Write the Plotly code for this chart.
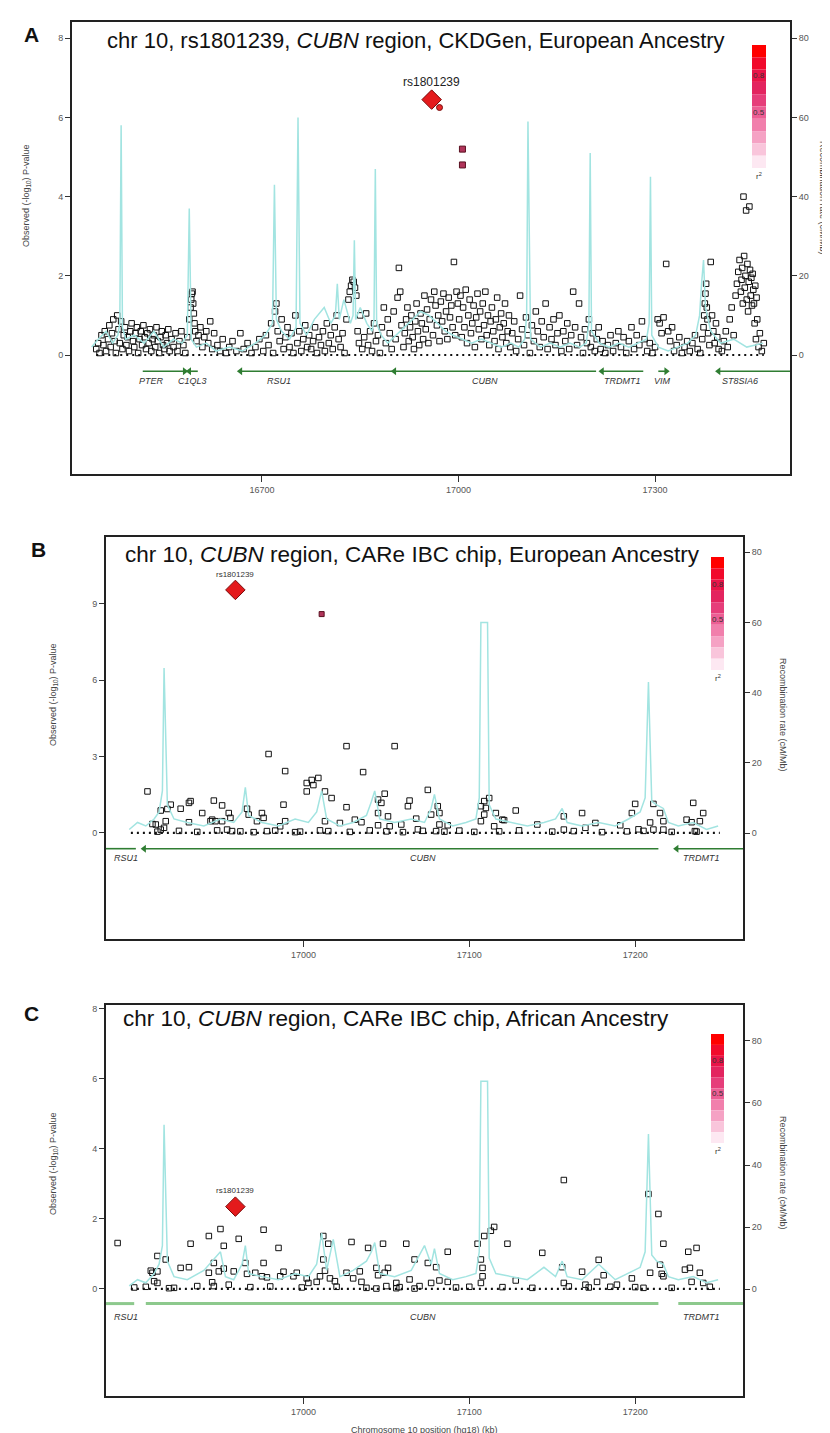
import plotly.graph_objects as go

W, H = 830, 1433
FONT = "Liberation Sans, Arial, sans-serif"

# ---------------- Panel A data (CKDGen, European) ----------------
a_pos = [16447,16450,16452,16455,16458,16460,16462,16465,16467,16469,
         16471,16473,16475,16477,16479,16481,16483,16485,16487,16489,
         16491,16493,16495,16497,16499,16501,16503,16505,16507,16509,
         16511,16513,16515,16517,16519,16521,16523,16525,16527,16529,
         16531,16533,16535,16537,16539,16541,16543,16545,16547,16549,
         16551,16553,16555,16557,16559,
         16562,16565,16568,16571,16574,16577,16580,16583,16586,16589,
         16591,16592,16593,16594,16595,16596,16597,16598,16600,16603,
         16606,16609,16612,16615,16618,16621,16624,16627,
         16632,16636,16640,16645,16650,16655,16661,16667,16672,16678,16684,16690,16696,
         16702,16706,16710,16714,16717,16720,16722,16724,16727,16730,
         16733,16736,16739,16742,16745,16748,16751,16754,16757,16760,
         16763,16766,16769,
         16772,16775,16778,16781,16784,16787,16790,16793,16796,16799,
         16802,16805,16808,16811,16814,16817,16820,16823,16826,16829,
         16832,16834,16836,16838,16840,16842,16844,16846,16848,16850,
         16853,16856,16859,16862,16865,16868,16871,16874,16877,16880,
         16883,16886,16889,16892,16895,16898,16901,16904,16907,16909,
         16911,16913,
         16916,16918,16920,16922,16924,16926,16928,16930,16932,16934,
         16936,16938,16940,16942,16944,16946,16948,16950,16952,16954,
         16956,16958,16961,16963,16965,16967,16969,16971,16973,16975,
         16977,16979,16981,16983,16985,16987,16989,16991,16993,16995,
         16997,16999,
         17001,17003,17005,17007,17009,17011,17013,17015,17017,17019,
         17021,17023,17025,17027,17029,17031,17033,17035,17037,17039,
         17041,17043,17045,17047,17049,17051,17053,17055,17057,17059,
         17061,17063,17065,17067,17069,17071,17073,17075,17077,17079,
         17082,17085,17088,17091,17094,17097,17100,17103,17106,17109,
         17112,17115,17118,17121,17124,17127,17130,17133,17136,17139,
         17142,17145,17148,17151,17154,17157,
         17160,17163,17166,17169,17172,17175,17178,17181,17184,17187,
         17190,17193,17196,17199,17202,17205,17208,17211,17214,17217,
         17220,17224,17228,17232,17236,17240,17244,17248,17252,17256,
         17260,17264,17268,17272,17276,17280,17284,17288,
         17292,17296,17300,17304,17307,17310,17313,17317,17320,17323,
         17326,17329,17333,17337,17341,17345,17349,17353,17357,17361,
         17365,17369,
         17372,17374,17375,17376,17377,17378,17379,17380,17381,17383,
         17385,17387,17389,17391,17393,17395,17397,
         17402,17405,17408,17411,17414,17417,17420,17423,17425,17427,
         17429,17431,17432,17433,17434,17435,17436,17437,17438,17439,
         17440,17441,17442,17443,17444,17445,17446,17447,17448,17449,
         17450,17451,17452,17453,17454,17455,17456,17458,17460,17463,
         17466]
a_logp = [0.15,0.3,0.05,0.5,0.25,0.6,0.1,0.4,0.75,0.2,
          0.55,0.9,0.35,0.05,1.0,0.65,0.3,0.85,0.15,0.5,
          0.7,0.25,0.45,0.1,0.6,0.8,0.35,0.2,0.55,0.7,
          0.05,0.4,0.6,0.25,0.75,0.45,0.15,0.55,0.3,0.65,
          0.1,0.4,0.5,0.2,0.7,0.35,0.05,0.45,0.6,0.25,
          0.15,0.5,0.3,0.65,0.1,
          0.4,0.2,0.55,0.1,0.35,0.6,0.25,0.05,0.45,0.9,
          1.2,1.4,1.55,1.6,1.3,1.05,0.8,0.6,0.35,0.5,
          0.7,0.2,0.45,0.6,0.3,0.85,0.15,0.55,
          0.25,0.1,0.4,0.05,0.2,0.35,0.1,0.55,0.15,0.3,0.05,0.2,0.4,
          0.1,0.5,0.25,0.8,0.05,1.1,1.3,0.6,0.35,0.9,
          0.15,0.45,0.7,0.2,0.55,0.05,1.0,0.3,0.6,0.1,
          0.4,0.75,0.2,
          0.5,0.15,0.35,0.7,0.05,0.45,0.25,0.6,0.1,0.8,
          0.3,0.5,0.15,0.7,1.0,0.4,0.2,0.55,0.05,0.9,
          1.4,1.6,1.75,1.9,1.85,1.7,1.5,0.6,0.3,1.0,
          0.15,0.45,1.05,0.25,0.6,0.1,0.8,0.35,0.5,0.05,
          0.7,1.2,0.3,0.9,0.55,0.15,1.1,0.4,1.45,2.2,
          1.6,0.75,
          0.2,0.55,0.9,1.2,0.35,0.7,1.0,0.45,0.15,0.85,
          1.3,0.6,0.25,1.05,0.8,0.4,1.5,0.65,1.15,0.3,
          0.9,1.4,0.5,1.6,1.25,0.75,1.0,0.35,1.35,0.85,
          1.55,0.6,1.1,0.4,1.45,0.95,1.25,0.7,2.35,0.5,
          1.6,1.3,
          0.9,1.5,0.45,1.2,0.7,1.65,0.3,1.0,1.4,0.55,
          0.8,1.25,0.2,0.95,1.55,0.65,1.1,0.4,1.3,0.75,
          1.6,0.5,1.0,0.25,0.85,1.2,0.6,0.35,0.9,1.45,
          0.15,0.7,1.05,0.45,0.8,1.3,0.3,0.6,1.0,0.2,
          0.55,0.85,0.1,0.4,1.5,0.65,0.25,0.95,0.5,0.05,
          0.75,0.35,1.1,0.6,0.2,0.85,0.45,1.3,0.15,0.7,
          0.4,0.9,0.25,0.55,1.0,0.1,
          0.6,0.35,0.8,0.15,0.5,1.6,0.7,0.25,1.3,0.45,
          0.05,0.65,0.3,0.9,0.2,0.55,0.1,0.4,0.7,0.15,
          0.35,0.05,0.25,0.5,0.1,0.3,0.6,0.2,0.45,0.05,
          0.35,0.7,0.15,0.5,0.25,0.85,0.4,0.1,
          0.3,0.05,0.2,0.9,0.8,0.55,0.95,2.3,0.6,0.35,
          0.7,0.1,0.25,0.45,0.05,0.2,0.35,0.1,0.3,0.5,
          0.15,0.05,
          0.4,0.7,1.0,1.3,1.55,1.8,1.2,0.9,0.55,0.25,
          2.35,1.0,0.6,0.3,0.8,0.45,0.15,
          0.1,0.35,0.6,0.2,0.9,1.2,0.5,1.5,1.8,2.1,
          2.4,1.6,1.9,2.2,1.3,4.0,2.5,1.7,2.0,3.65,
          1.4,2.3,1.1,1.85,3.75,2.15,1.5,1.95,1.25,2.05,
          1.65,1.3,0.8,1.75,0.4,1.45,0.9,0.2,0.55,0.1,
          0.3]
a_lead = [16959, 6.45]
a_hi_pos = [16971]
a_hi_logp = [6.25]
a_mid_pos = [17006, 17006]
a_mid_logp = [5.2, 4.8]
a_rec_pos = [16440,16450,16462,16472,16480,16483,16485,16487,16492,16505,
             16520,16535,16550,16565,16578,16586,16589,16592,16600,16615,
             16630,16650,16670,16690,16705,16716,16719,16722,16730,16742,
             16752,16755,16758,16768,16780,16795,16805,16812,16815,16818,
             16825,16835,16839,16841,16843,16850,16860,16868,16871,16873,
             16875,16882,16892,16905,16918,16930,16942,16955,16968,16980,
             16992,17005,17020,17035,17050,17065,17080,17092,17101,17104,
             17106,17110,17125,17140,17155,17170,17185,17195,17199,17201,
             17203,17215,17230,17245,17260,17275,17287,17291,17293,17295,
             17305,17320,17335,17350,17362,17368,17371,17374,17377,17385,
             17400,17420,17440,17465]
a_rec_rate = [2,4,6,3,5,8,58,7,4,5,
              3,6,2,4,3,5,37,4,2,3,
              1,2,1,3,5,8,43,9,6,4,
              7,60,8,5,9,12,8,10,18,9,
              14,8,10,29,9,12,8,6,9,47,
              8,5,3,5,7,9,11,10,8,6,
              5,4,3,4,3,2,3,2,4,10,
              59,4,2,3,2,3,2,3,8,51,
              6,3,2,3,2,3,4,8,45,5,
              2,1,2,3,5,10,18,24,12,6,
              3,4,2,3]
a_dots = [16447, 17466]
a_gene_name = ["PTER", "C1QL3", "RSU1", "CUBN", "TRDMT1", "VIM", "ST8SIA6"]
a_gene_start = [16518, 16589, 16667, 16902, 17219, 17305, 17397]
a_gene_end = [16582, 16602, 16899, 17210, 17282, 17317, 17506]
a_gene_strand = ["+", "-", "-", "-", "-", "+", "-"]
a_gene_label_x = [16532, 16594, 16726, 17040, 17250, 17312, 17430]

# ---------------- Panel B data (CARe IBC, European) ----------------
b_pos = [16906,16914,16920,16917,16911,16909,16916,16914,16926,16931,
         16939,16946,16951,16945,16944,16947,16951,16955,16956,16931,
         16954,16957,16966,16967,16975,16972,16976,16988,16989,16978,
         16986,16995,17002,17013,17017,17013,17010,17022,17026,17031,
         17035,17045,17049,17047,17045,17051,17045,17052,17059,17064,
         17063,17068,17069,17081,17082,17077,17082,17087,17080,17107,
         17109,17107,17116,17120,17121,17128,17115,17141,17157,17168,
         17157,17170,17176,17191,17198,17202,17209,17215,17217,17211,
         17217,17231,17234,17239,17241,17236,
         16932,16918,16979,16989,17002,17005,17006,17009,17026,17036,
         17055,17075,17109,17112,17110,17200,17211,17235,
         16912,16925,16936,16948,16962,16970,16983,16998,17015,17028,
         17040,17050,17060,17072,17085,17094,17103,17118,17130,17150,
         17163,17180,17195,17205,17222,17237]
b_logp = [1.63,0.88,1.11,0.46,0.33,0.35,0.20,0.13,0.95,1.18,
          0.78,1.27,1.08,0.52,0.46,0.46,0.46,0.78,0.59,0.42,
          0.13,0.07,0.95,0.72,0.78,0.46,0.59,1.11,0.46,0.07,
          0.26,0.03,1.63,1.63,1.37,0.46,0.10,0.39,1.01,0.52,
          0.42,1.31,1.54,1.18,0.78,0.65,0.30,0.26,0.33,1.27,
          1.05,0.56,0.14,1.05,0.78,0.72,0.33,0.30,0.07,1.05,
          0.72,0.46,0.78,0.52,0.50,0.88,0.26,0.33,0.65,0.78,
          0.13,0.20,0.39,0.30,0.78,0.14,0.41,0.78,0.46,0.13,
          0.13,0.52,0.42,0.46,0.78,0.07,
          1.25,0.94,3.1,2.43,1.96,2.08,1.88,2.16,3.41,2.39,
          3.41,1.69,1.25,1.37,0.98,1.14,1.14,1.18,
          0.05,0.08,0.04,0.10,0.06,0.03,0.09,0.05,0.07,0.04,
          0.1,0.06,0.03,0.08,0.05,0.09,0.04,0.06,0.1,0.05,
          0.07,0.03,0.06,0.08,0.04,0.05]
b_lead = [16959, 9.55]
b_mid_pos = [17011]
b_mid_logp = [8.6]
b_rec_pos = [16895,16900,16905,16910,16913,16915,16916,16918,16922,16930,
             16940,16950,16958,16963,16965,16967,16975,16985,16995,17003,
             17008,17011,17014,17022,17030,17038,17041,17043,17046,17055,
             17065,17073,17077,17079,17082,17090,17098,17104,17106,17107,
             17111,17112,17116,17125,17135,17145,17152,17156,17159,17168,
             17178,17188,17196,17203,17206,17208,17210,17213,17217,17220,
             17226,17235,17243,17250]
b_rec_rate = [1,3,2,4,6,12,47,8,4,3,
              2,4,3,6,13,5,3,2,4,3,
              6,12,4,2,3,5,9,12,4,3,
              4,3,7,11,4,2,3,4,10,60,
              60,8,4,3,2,3,4,7,3,2,
              3,2,4,6,10,43,9,8,7,3,
              2,3,1,2]
b_dots = [16896, 17251]
b_gene_name = ["RSU1", "CUBN", "TRDMT1"]
b_gene_start = [16881, 16904, 17225]
b_gene_end = [16899, 17214, 17265]
b_gene_arrow = [False, True, True]
b_gene_label_x = [16893, 17072, 17240]

# ---------------- Panel C data (CARe IBC, African) ----------------
c_pos = [16908,16909,16912,16910,16912,16917,16919,16926,16931,16943,
         16946,16945,16949,16952,16946,16955,16958,16965,16966,16971,
         16976,16975,16978,16986,16988,16994,16996,17002,17003,17008,
         17010,17013,17012,17016,17019,17026,17030,17034,17035,17044,
         17045,17044,17049,17051,17050,17056,17056,17064,17067,17067,
         17075,17077,17080,17082,17087,17107,17108,17108,17107,17128,
         17156,17157,17168,17170,17177,17181,17189,17198,17205,17209,
         17215,17216,17217,17230,17233,17239,17234,17241,
         16888,16932,16943,16950,16952,16976,17012,17015,17029,17048,
         17062,17087,17105,17109,17113,17115,17123,17157,17208,17214,
         17217,17237,17232,16912,16961,16985,17039,17144,17178,
         16898,16905,16922,16936,16968,16980,16999,17020,17038,17058,
         17070,17092,17100,17120,17138,17160,17172,17185,17200,17222,17245]
c_logp = [0.52,0.46,0.50,0.22,0.17,0.84,0.02,0.60,0.62,0.46,
          0.74,0.19,0.50,0.58,0.08,0.12,0.50,0.74,0.43,0.46,
          0.74,0.36,0.33,0.36,0.49,0.36,0.46,0.30,0.17,0.20,
          0.36,0.52,0.84,0.30,0.22,0.46,0.30,0.50,0.20,0.60,
          0.39,0.01,0.46,0.60,0.08,0.17,0.02,0.27,0.84,0.01,
          0.74,0.17,0.62,0.24,0.20,0.84,0.60,0.36,0.17,0.24,
          0.62,0.17,0.49,0.12,0.20,0.39,0.12,0.30,0.03,0.46,
          0.69,0.43,0.36,0.55,0.60,0.46,0.20,0.17,
          1.31,1.29,1.51,1.71,1.23,1.69,1.51,1.29,1.34,1.29,
          1.29,1.06,1.29,1.51,1.66,1.77,1.29,3.11,2.71,2.14,
          1.29,1.17,1.06,0.94,1.43,1.17,1.17,1.03,0.83,
          0.04,0.06,0.03,0.08,0.05,0.07,0.04,0.06,0.03,0.05,
          0.08,0.04,0.06,0.05,0.03,0.07,0.04,0.06,0.05,0.03,0.06]
c_lead = [16959, 2.35]
c_rec_pos = [16895,16900,16905,16910,16913,16915,16916,16918,16922,16930,
             16940,16950,16953,16958,16963,16965,16967,16975,16985,16995,
             17003,17008,17011,17014,17018,17022,17030,17038,17041,17043,
             17046,17055,17065,17073,17077,17079,17082,17090,17098,17104,
             17106,17107,17111,17112,17116,17125,17135,17145,17152,17156,
             17159,17168,17178,17188,17196,17203,17206,17208,17210,17213,
             17217,17220,17226,17235,17243,17250]
c_rec_rate = [1,3,2,5,8,14,53,9,4,3,
              6,12,4,3,8,14,5,4,3,5,
              4,8,18,6,16,4,6,9,12,15,
              5,4,6,14,8,13,5,3,4,5,
              12,67,67,10,5,4,3,7,4,9,
              4,3,8,3,5,7,12,50,11,9,
              8,4,3,4,2,3]
c_dots = [16896, 17251]
c_gene_name = ["RSU1", "CUBN", "TRDMT1"]
c_gene_start = [16881, 16905, 17226]
c_gene_end = [16898, 17214, 17265]
c_gene_label_x = [16893, 17072, 17240]

r2_colors = ["#ff0000", "#f10a2c", "#e81448", "#e3245f", "#e63e7a",
             "#ec5e94", "#f17fac", "#f5a2c4", "#f9c5db", "#fde8f2"]

# ---------------- figure geometry (pixels) ----------------
panels = {
    "A": dict(box=(64, 782, 14, 466), xr=[16410, 17506], yr=[-3.005, 8.41], y2r=[-30.05, 84.1],
              xt=[16700, 17000, 17300], yt=[0, 2, 4, 6, 8], leg=(744, 758, 37, 160)),
    "B": dict(box=(98, 735, 529, 931), xr=[16881, 17265], yr=[-4.17, 11.63], y2r=[-30.2, 84.35],
              xt=[17000, 17100, 17200], yt=[0, 3, 6, 9], leg=(703, 716, 549, 662)),
    "C": dict(box=(98, 735, 997, 1388), xr=[16881, 17265], yr=[-3.06, 8.11], y2r=[-34.5, 91.6],
              xt=[17000, 17100, 17200], yt=[0, 2, 4, 6, 8], leg=(703, 716, 1026, 1135)),
}

def fx(px):
    return px / W

def fy(py):
    return 1 - py / H

fig = go.Figure()
layout = dict(width=W, height=H, autosize=False, margin=dict(l=0, r=0, t=0, b=0),
              paper_bgcolor="white", plot_bgcolor="white", showlegend=False,
              font=dict(family=FONT, color="#222"))
annotations = []
shapes = []

def note(px, py, text, size, color="#222", angle=0):
    annotations.append(dict(xref="paper", yref="paper", x=fx(px), y=fy(py), text=text,
                            xanchor="center", yanchor="middle", textangle=angle,
                            showarrow=False, font=dict(family=FONT, size=size, color=color)))

axis_ids = {"A": ("x", "y", "y2"), "B": ("x2", "y3", "y4"), "C": ("x3", "y5", "y6")}
tickfont = dict(family=FONT, size=9, color="#555")

for key, p in panels.items():
    xid, yid, y2id = axis_ids[key]
    x0, x1, yt0, yb0 = p["box"]
    xname = "xaxis" + xid[1:]
    yname = "yaxis" + yid[1:]
    y2name = "yaxis" + y2id[1:]
    layout[xname] = dict(domain=[fx(x0), fx(x1)], anchor=yid, range=p["xr"], tickvals=p["xt"],
                         tickformat="d", ticks="outside", ticklen=6, tickwidth=1, tickcolor="#333",
                         showline=True, linecolor="#222", linewidth=2, mirror=True,
                         showgrid=False, zeroline=False, tickfont=tickfont)
    layout[yname] = dict(domain=[fy(yb0), fy(yt0)], anchor=xid, range=p["yr"], tickvals=p["yt"],
                         ticks="outside", ticklen=5, tickwidth=1, tickcolor="#333",
                         showline=True, linecolor="#222", linewidth=2,
                         showgrid=False, zeroline=False, tickfont=tickfont)
    layout[y2name] = dict(overlaying=yid, side="right", anchor=xid, range=p["y2r"],
                          tickvals=[0, 20, 40, 60, 80],
                          ticks="outside", ticklen=5, tickwidth=1, tickcolor="#333",
                          showline=True, linecolor="#222", linewidth=2,
                          showgrid=False, zeroline=False, tickfont=tickfont)
    # r^2 legend bar
    lx0, lx1, ly0, ly1 = p["leg"]
    n = len(r2_colors)
    step = (ly1 - ly0) / n
    for i, col in enumerate(r2_colors):
        shapes.append(dict(type="rect", xref="paper", yref="paper",
                           x0=fx(lx0), x1=fx(lx1), y0=fy(ly0 + (i + 1) * step), y1=fy(ly0 + i * step),
                           fillcolor=col, line=dict(width=0), layer="below"))
    for lab, frac in (("0.8", 0.245), ("0.5", 0.55)):
        note((lx0 + lx1) / 2, ly0 + frac * (ly1 - ly0), lab, 8, "#333")
    note((lx0 + lx1) / 2, ly1 + 8, "r<sup>2</sup>", 8, "#333")

rec_color = "#a2e4e1"
snp_marker = dict(symbol="square-open", size=5.5, color="#111", line=dict(width=1, color="#111"))
dot_line = dict(color="#111", width=2.2, dash="2px,4px")

def add_common(xid, yid, y2id, rec_pos, rec_rate, dots, pos, logp):
    fig.add_trace(go.Scatter(x=rec_pos, y=rec_rate, mode="lines", xaxis=xid, yaxis=y2id,
                             line=dict(color=rec_color, width=1.5), hoverinfo="skip"))
    fig.add_trace(go.Scatter(x=dots, y=[0, 0], mode="lines", xaxis=xid, yaxis=yid,
                             line=dot_line, hoverinfo="skip"))
    fig.add_trace(go.Scatter(x=pos, y=logp, mode="markers", xaxis=xid, yaxis=yid,
                             marker=snp_marker))

def add_genes(xid, yid, names, starts, ends, heads, label_x, line_y, label_y, color, width):
    gx, gy = [], []
    for s, e in zip(starts, ends):
        gx += [s, e, None]
        gy += [line_y, line_y, None]
    fig.add_trace(go.Scatter(x=gx, y=gy, mode="lines", xaxis=xid, yaxis=yid,
                             line=dict(color=color, width=width), hoverinfo="skip"))
    hx = [h[0] for h in heads]
    hs = [h[1] for h in heads]
    if hx:
        fig.add_trace(go.Scatter(x=hx, y=[line_y] * len(hx), mode="markers", xaxis=xid, yaxis=yid,
                                 marker=dict(symbol=hs, size=7, color=color, line=dict(width=0)),
                                 hoverinfo="skip"))
    for nm, lx in zip(names, label_x):
        annotations.append(dict(xref=xid, yref=yid, x=lx, y=label_y, text="<i>%s</i>" % nm,
                                xanchor="center", yanchor="middle",
                                showarrow=False, font=dict(family=FONT, size=9, color="#333")))

GREEN = "#2f7d32"
LIGHT_GREEN = "#8dc98d"

# Panel A
add_common("x", "y", "y2", a_rec_pos, a_rec_rate, a_dots, a_pos, a_logp)
a_heads = []
for s, e, st in zip(a_gene_start, a_gene_end, a_gene_strand):
    if st == "+":
        a_heads.append((e, "triangle-right"))
    else:
        a_heads.append((s, "triangle-left"))
add_genes("x", "y", a_gene_name, a_gene_start, a_gene_end, a_heads, a_gene_label_x,
          -0.41, -0.66, GREEN, 1.6)
fig.add_trace(go.Scatter(x=a_mid_pos, y=a_mid_logp, mode="markers", xaxis="x", yaxis="y",
                         marker=dict(symbol="square", size=6, color="#b0345a",
                                     line=dict(width=1, color="#5a1020"))))
fig.add_trace(go.Scatter(x=a_hi_pos, y=a_hi_logp, mode="markers", xaxis="x", yaxis="y",
                         marker=dict(symbol="circle", size=6, color="#e8282a",
                                     line=dict(width=1, color="#7a1010"))))
fig.add_trace(go.Scatter(x=[a_lead[0]], y=[a_lead[1]], mode="markers", xaxis="x", yaxis="y",
                         marker=dict(symbol="diamond", size=15, color="#e41a1c",
                                     line=dict(width=1, color="#7a0a0a"))))
annotations.append(dict(xref="x", yref="y", x=a_lead[0], y=a_lead[1] + 0.45, text="rs1801239",
                        xanchor="center", yanchor="middle",
                        showarrow=False, font=dict(family=FONT, size=12, color="#222")))

# Panel B
add_common("x2", "y3", "y4", b_rec_pos, b_rec_rate, b_dots, b_pos, b_logp)
b_heads = [(s, "triangle-left") for s, a in zip(b_gene_start, b_gene_arrow) if a]
add_genes("x2", "y3", b_gene_name, b_gene_start, b_gene_end, b_heads, b_gene_label_x,
          -0.62, -0.98, GREEN, 1.6)
fig.add_trace(go.Scatter(x=b_mid_pos, y=b_mid_logp, mode="markers", xaxis="x2", yaxis="y3",
                         marker=dict(symbol="square", size=5, color="#b0345a",
                                     line=dict(width=1, color="#5a1020"))))
fig.add_trace(go.Scatter(x=[b_lead[0]], y=[b_lead[1]], mode="markers", xaxis="x2", yaxis="y3",
                         marker=dict(symbol="diamond", size=15, color="#e41a1c",
                                     line=dict(width=1, color="#7a0a0a"))))
annotations.append(dict(xref="x2", yref="y3", x=b_lead[0], y=b_lead[1] + 0.6, text="rs1801239",
                        xanchor="center", yanchor="middle",
                        showarrow=False, font=dict(family=FONT, size=8, color="#333")))

# Panel C
add_common("x3", "y5", "y6", c_rec_pos, c_rec_rate, c_dots, c_pos, c_logp)
add_genes("x3", "y5", c_gene_name, c_gene_start, c_gene_end, [], c_gene_label_x,
          -0.42, -0.81, LIGHT_GREEN, 3)
fig.add_trace(go.Scatter(x=[c_lead[0]], y=[c_lead[1]], mode="markers", xaxis="x3", yaxis="y5",
                         marker=dict(symbol="diamond", size=15, color="#e41a1c",
                                     line=dict(width=1, color="#7a0a0a"))))
annotations.append(dict(xref="x3", yref="y5", x=c_lead[0], y=c_lead[1] + 0.45, text="rs1801239",
                        xanchor="center", yanchor="middle",
                        showarrow=False, font=dict(family=FONT, size=8, color="#333")))

# Titles inside plot boxes
titles = [
    ("chr 10, rs1801239, <i>CUBN</i> region, CKDGen, European Ancestry", 97, 33, 22),
    ("chr 10, <i>CUBN</i> region, CARe IBC chip, European Ancestry", 115, 546, 22.5),
    ("chr 10, <i>CUBN</i> region, CARe IBC chip, African Ancestry", 113, 1010, 22.5),
]
for t, px, py, sz in titles:
    annotations.append(dict(xref="paper", yref="paper", x=fx(px), y=fy(py), xanchor="left",
                            yanchor="middle", text=t, showarrow=False,
                            font=dict(family=FONT, size=sz, color="#111")))

# Panel letters
for lab, px, py in (("A", 23, 27), ("B", 30, 541), ("C", 23, 1005)):
    note(px, py, "<b>%s</b>" % lab, 21, "#111")

# Axis titles
ytitle = "Observed (-log<sub>10</sub>) P-value"
rtitle = "Recombination rate (cM/Mb)"
for px, py in ((18, 188), (45, 687), (45, 1156)):
    note(px, py, ytitle, 9, "#444", -90)
for px, py in ((815, 190), (775, 707), (775, 1165)):
    note(px, py, rtitle, 9, "#444", 90)
note(416, 1422, "Chromosome 10 position (hg18) (kb)", 9, "#444")

layout["annotations"] = annotations
layout["shapes"] = shapes
fig.update_layout(**layout)
fig.write_html("out.html")
